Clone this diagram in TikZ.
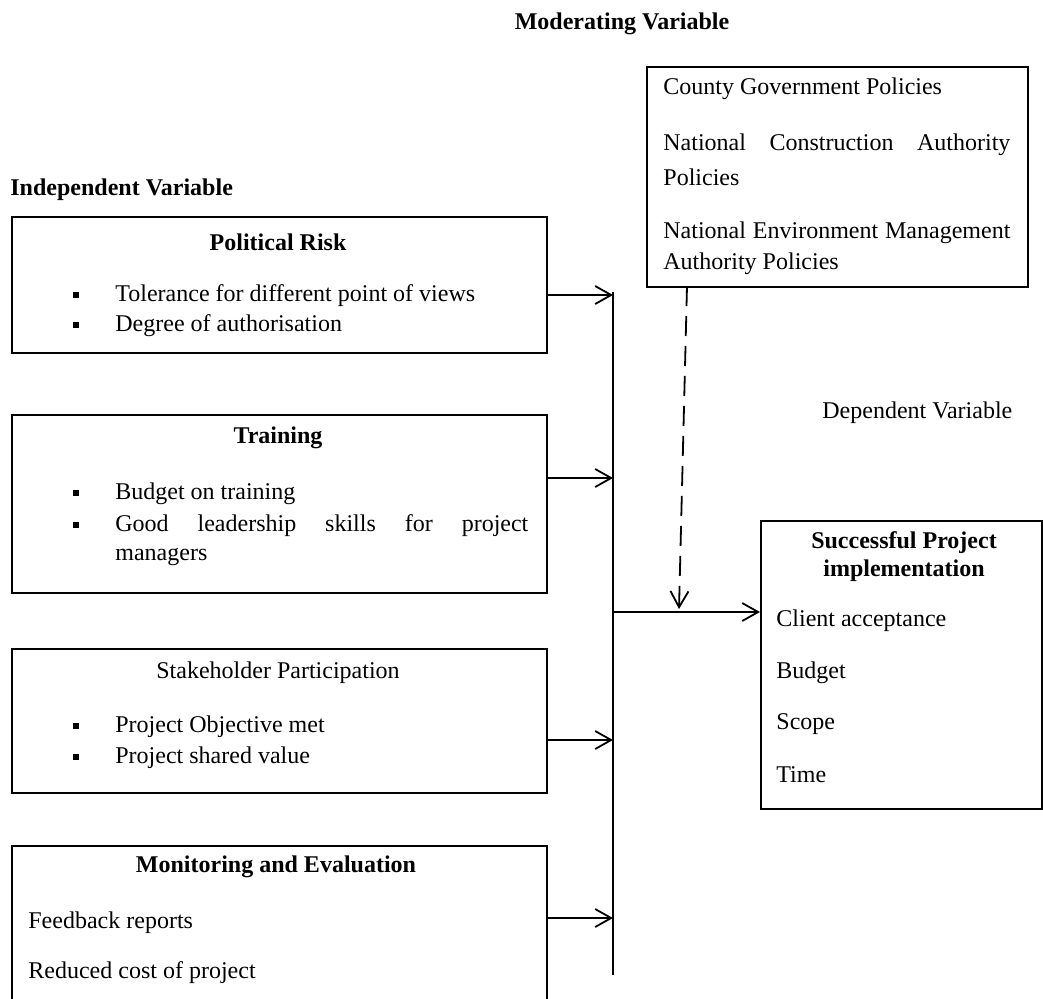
\documentclass[tikz,border=0pt]{standalone}
\usepackage{fontspec}
\setmainfont{Liberation Serif}
\usetikzlibrary{arrows.meta}
\begin{document}
\begin{tikzpicture}[x=0.5pt,y=-0.5pt,
  box/.style={draw,line width=0.9pt,rectangle,anchor=north west,inner sep=0pt},
  txt/.style={anchor=west,inner sep=0pt,yshift=-1pt,font=\fontsize{12}{14}\selectfont},
  ttl/.style={anchor=center,inner sep=0pt,yshift=-1pt,font=\fontsize{12}{14}\selectfont\bfseries},
  conn/.style={line width=0.9pt,-{Straight Barb[length=8pt,width=9pt,line width=0.9pt]}},
  bul/.style={fill=black,inner sep=0pt,minimum size=3pt}]
\clip (0,0) rectangle (1043,998);
\useasboundingbox (0,0) rectangle (1043,998);
% headings
\node[ttl] (modh) at (622,22) {Moderating Variable};
\node[txt,font=\fontsize{12}{14}\selectfont\bfseries] (indh) at (10,188) {Independent Variable};
\node[txt] (deph) at (822,411) {Dependent Variable};
% moderating box
\node[box,minimum width=190.5pt,minimum height=110pt] (mod) at (646,66) {};
\node[txt] (m1) at (663,87) {County Government Policies};
\node[txt] (m2) at (663,143) {\makebox[173.5pt][s]{National\hfill Construction\hfill Authority}};
\node[txt] (m3) at (663,175) {Policies};
\node[txt] (m4) at (663,231) {\makebox[173.5pt][s]{National\hfill Environment\hfill Management}};
\node[txt] (m5) at (663,262) {Authority Policies};
% political risk
\node[box,minimum width=267.5pt,minimum height=68pt] (pr) at (11,216) {};
\node[ttl] (prt) at (278,240) {Political Risk};
\node[bul] (pb1) at (76,295) {};
\node[txt] (p1) at (115,294) {Tolerance for different point of views};
\node[bul] (pb2) at (76,325) {};
\node[txt] (p2) at (115,324) {Degree of authorisation};
% training
\node[box,minimum width=267.5pt,minimum height=89pt] (tr) at (11,414) {};
\node[ttl] (trt) at (278,436) {Training};
\node[bul] (tb1) at (76,493) {};
\node[txt] (t1) at (115,492) {Budget on training};
\node[bul] (tb2) at (76,525) {};
\node[txt] (t2) at (115,524) {\makebox[206.5pt][s]{Good\hfill leadership\hfill skills\hfill for\hfill project}};
\node[txt] (t3) at (115,555) {managers};
% stakeholder
\node[box,minimum width=267.5pt,minimum height=72pt] (sp) at (11,648) {};
\node[ttl,font=\fontsize{12}{14}\selectfont] (spt) at (278,671) {Stakeholder Participation};
\node[bul] (sb1) at (76,726) {};
\node[txt] (s1) at (115,725) {Project Objective met};
\node[bul] (sb2) at (76,757) {};
\node[txt] (s2) at (115,756) {Project shared value};
% monitoring
\node[box,minimum width=267.5pt,minimum height=90pt] (me) at (11,845) {};
\node[ttl] (met) at (276,865) {Monitoring and Evaluation};
\node[txt] (e1) at (28,921) {Feedback reports};
\node[txt] (e2) at (28,971) {Reduced cost of project};
% dependent box
\node[box,minimum width=140.5pt,minimum height=144pt] (dv) at (760,520) {};
\node[ttl] (dvt1) at (904,541) {Successful Project};
\node[ttl] (dvt2) at (904,569) {implementation};
\node[txt] (d1) at (776,619) {Client acceptance};
\node[txt] (d2) at (776,671) {Budget};
\node[txt] (d3) at (776,722) {Scope};
\node[txt] (d4) at (776,773) {Time};
% bus
\coordinate (bt) at (613,292);
\coordinate (bb) at (613,975);
\draw[line width=0.9pt] (bt) -- (bb);
\draw[conn] (pr.east |- 0,295) -- (bt |- 0,295);
\draw[conn] (tr.east |- 0,478) -- (bt |- 0,478);
\draw[conn] (sp.east |- 0,740) -- (bt |- 0,740);
\draw[conn] (me.east |- 0,918) -- (bt |- 0,918);
\draw[conn] (bt |- 0,612) -- (dv.west |- 0,612);
\coordinate (dtop) at (687,286);
\coordinate (dbot) at (679,609);
\draw[conn,dashed,dash pattern=on 10pt off 5pt] (dtop) -- (dbot);
\end{tikzpicture}
\end{document}
